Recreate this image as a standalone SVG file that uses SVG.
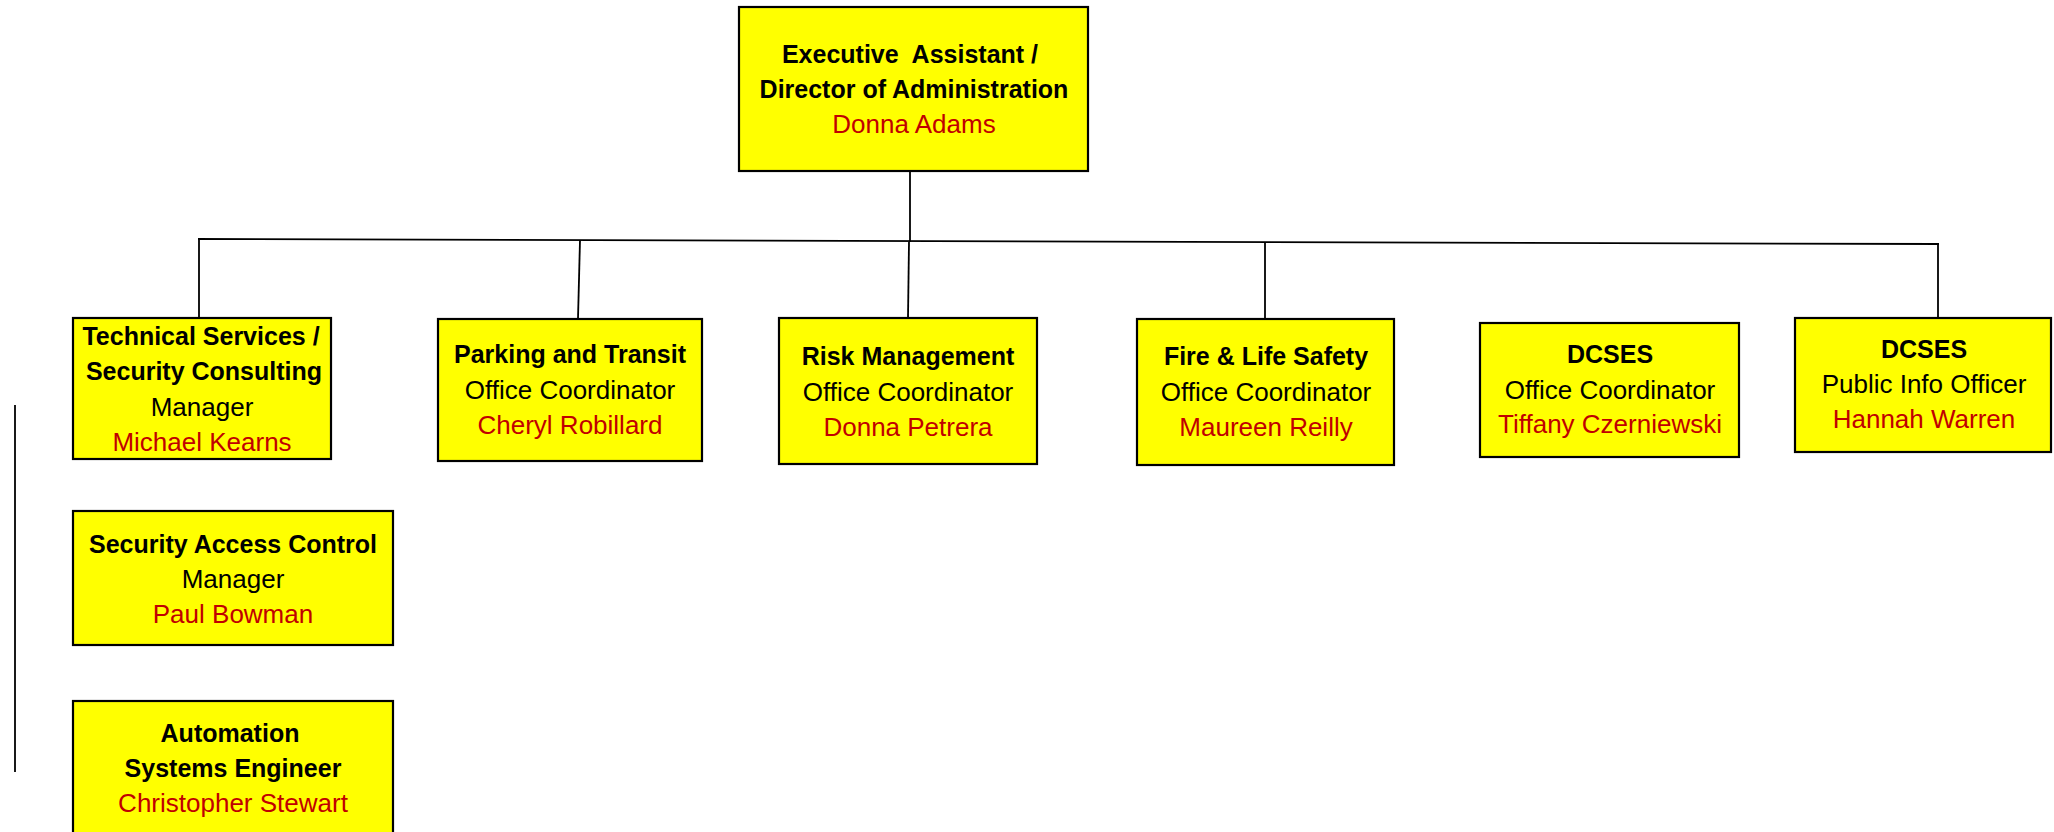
<svg xmlns="http://www.w3.org/2000/svg" width="2054" height="832" viewBox="0 0 2054 832">
<style>
.box{fill:#FFFF00;stroke:#000;stroke-width:2.2}
.b{font-family:"Liberation Sans",Arial,sans-serif;font-weight:bold;font-size:25px;fill:#000;text-anchor:middle}
.r{font-family:"Liberation Sans",Arial,sans-serif;font-size:26px;fill:#000;text-anchor:middle}
.n{font-family:"Liberation Sans",Arial,sans-serif;font-size:26px;fill:#C00000;text-anchor:middle}
.ln{stroke:#000;stroke-width:1.8;fill:none}
</style>
<rect width="2054" height="832" fill="#fff"/>
<g id="connectors">
<line class="ln" x1="910" y1="171" x2="910" y2="242"/>
<line class="ln" x1="198" y1="239" x2="1939" y2="244"/>
<line class="ln" x1="199" y1="240" x2="199" y2="318"/>
<line class="ln" x1="580" y1="240" x2="578" y2="319"/>
<line class="ln" x1="909" y1="242" x2="908" y2="318"/>
<line class="ln" x1="1265" y1="243" x2="1265" y2="319"/>
<line class="ln" x1="1938" y1="244" x2="1938" y2="318"/>
<line class="ln" x1="15" y1="405" x2="15" y2="772"/>
</g>
<g id="executive">
<rect class="box" x="739" y="7" width="349" height="164"/>
<text class="b" x="910" y="63" font-size="25.5" xml:space="preserve">Executive  Assistant /</text>
<text class="b" x="914" y="98" font-size="25.5">Director of Administration</text>
<text class="n" x="914" y="133">Donna Adams</text>
</g>
<g id="technical">
<rect class="box" x="73" y="318" width="258" height="141"/>
<text class="b" x="201" y="345">Technical Services /</text>
<text class="b" x="204" y="380">Security Consulting</text>
<text class="r" x="202" y="416">Manager</text>
<text class="n" x="202" y="451">Michael Kearns</text>
</g>
<g id="security-access">
<rect class="box" x="73" y="511" width="320" height="134"/>
<text class="b" x="233" y="553">Security Access Control</text>
<text class="r" x="233" y="588">Manager</text>
<text class="n" x="233" y="623">Paul Bowman</text>
</g>
<g id="automation">
<rect class="box" x="73" y="701" width="320" height="140"/>
<text class="b" x="230" y="742">Automation</text>
<text class="b" x="233" y="777">Systems Engineer</text>
<text class="n" x="233" y="812">Christopher Stewart</text>
</g>
<g id="parking">
<rect class="box" x="438" y="319" width="264" height="142"/>
<text class="b" x="570" y="363">Parking and Transit</text>
<text class="r" x="570" y="399">Office Coordinator</text>
<text class="n" x="570" y="434">Cheryl Robillard</text>
</g>
<g id="risk">
<rect class="box" x="779" y="318" width="258" height="146"/>
<text class="b" x="908" y="365">Risk Management</text>
<text class="r" x="908" y="401">Office Coordinator</text>
<text class="n" x="908" y="436">Donna Petrera</text>
</g>
<g id="fire">
<rect class="box" x="1137" y="319" width="257" height="146"/>
<text class="b" x="1266" y="365">Fire &amp; Life Safety</text>
<text class="r" x="1266" y="401">Office Coordinator</text>
<text class="n" x="1266" y="436">Maureen Reilly</text>
</g>
<g id="dcses-office">
<rect class="box" x="1480" y="323" width="259" height="134"/>
<text class="b" x="1610" y="363">DCSES</text>
<text class="r" x="1610" y="399">Office Coordinator</text>
<text class="n" x="1610" y="433">Tiffany Czerniewski</text>
</g>
<g id="dcses-public">
<rect class="box" x="1795" y="318" width="256" height="134"/>
<text class="b" x="1924" y="358">DCSES</text>
<text class="r" x="1924" y="393">Public Info Officer</text>
<text class="n" x="1924" y="428">Hannah Warren</text>
</g>
</svg>
